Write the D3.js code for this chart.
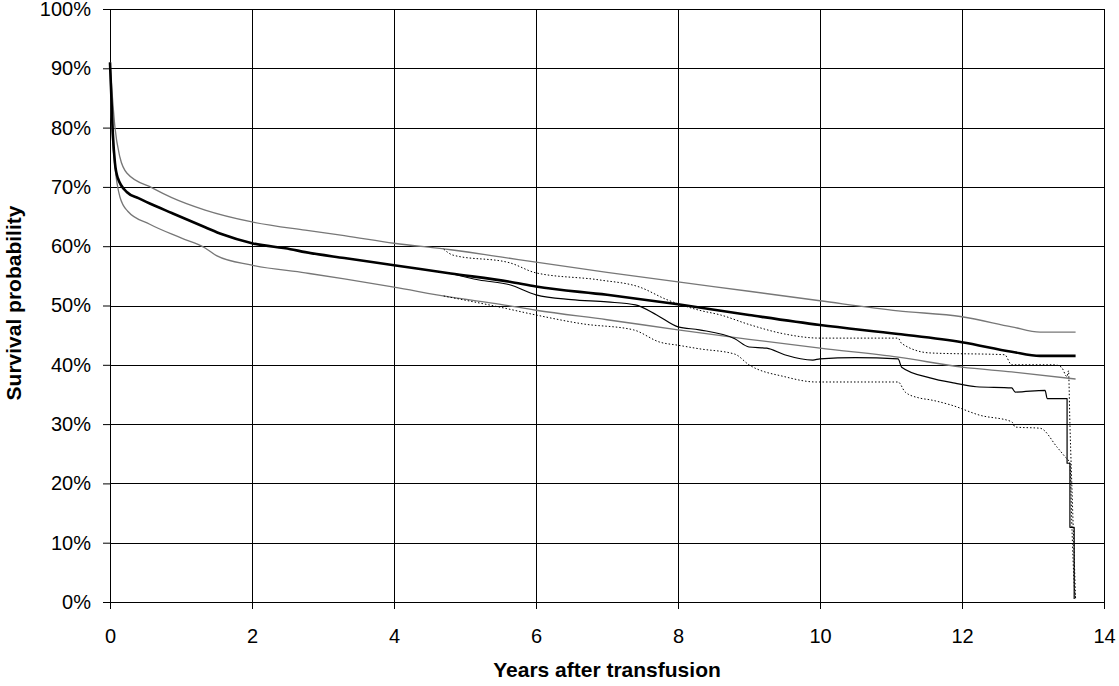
<!DOCTYPE html>
<html>
<head>
<meta charset="utf-8">
<script src="https://cdn.jsdelivr.net/npm/d3@7"></script>
<style>
  body { margin: 0; background: #fff; }
  svg { display: block; }
</style>
</head>
<body>
<div id="chart"></div>
<script>
// ---- data: [years after transfusion, survival %] ----
var mainCurve = [[0,91],[0.02,85],[0.04,79],[0.07,74],[0.11,71.5],[0.24,69.1],[0.4,68.1],[0.56,67.2],[0.87,65.6],
  [1.34,63.2],[1.58,62],[2,60.5],[2.54,59.5],[2.75,59],[3.3,58],[4,56.8],[4.8,55.4],[5.63,54],[6,53.2],[7,51.8],
  [8,50.2],[9,48.4],[10,46.7],[11.1,45.2],[12,43.8],[12.7,42.2],[13.1,41.5],[13.6,41.5]];

var mainUpper = [[0,91],[0.02,87.5],[0.07,80],[0.14,75],[0.24,72.3],[0.6,69.8],[0.87,68.2],[1.34,66.1],[2,64.1],
  [2.75,62.7],[3.3,61.8],[4,60.5],[4.8,59.4],[5.5,58.2],[6,57.3],[7,55.6],[8,54],[9,52.4],[10,50.8],[11.1,49.1],
  [12,48.1],[12.7,46.4],[13.1,45.5],[13.6,45.5]];

var mainLower = [[0,91],[0.02,81.8],[0.07,73.4],[0.14,68.3],[0.25,65.9],[0.56,63.7],[1,61.4],[1.34,59.7],[1.5,58.4],
  [2,56.8],[2.75,55.5],[3.3,54.5],[4,53.1],[4.8,51.4],[5.5,50.2],[6,49.2],[7,47.6],[8,45.9],[9,44.3],[10,42.8],
  [11.1,41.3],[12,39.6],[12.7,38.8],[13.6,37.6]];

var kmCurve = [[4.8,55.4],[5.2,54.3],[5.63,53.5],[6,51.8],[6.5,51],[7,50.6],[7.4,50.1],[7.7,48.4],[8,46.4],[8.3,45.9],
  [8.8,44.4],[9,43],[9.25,42.8],[9.5,41.7],[9.9,40.8],[10,41],[10.5,41.2],[11.1,41],[11.15,39.6],[11.55,37.8],
  [11.9,36.9],[12.2,36.3],[12.7,36.1],[12.75,35.4],[13.17,35.7],[13.2,34.3],[13.48,34.3],[13.48,23.4],[13.52,23.4],
  [13.52,12.6],[13.58,12.6],[13.58,0.5]];

var kmUpper = [[4.7,59.5],[4.83,58.5],[5.63,57.2],[6,55.5],[6.9,54.3],[7.46,53.1],[7.84,51],[8.3,49.2],[8.6,48.4],
  [9,46.8],[9.5,45.2],[10,44.5],[11.1,44.5],[11.15,43.6],[11.55,42],[12.6,41.7],[12.7,40],[13.3,40],[13.4,39.6],
  [13.48,38],[13.5,39],[13.52,30],[13.56,15],[13.6,0.5]];

var kmLower = [[4.7,51.6],[5.5,49.7],[6,48.4],[6.66,46.9],[7.37,45.9],[7.75,43.8],[8,43.3],[8.3,42.7],[8.8,41.8],
  [9,40],[9.5,38],[9.95,37.1],[11.1,37.1],[11.2,35.4],[11.4,34.4],[11.55,34.1],[11.85,33.2],[12.25,31.5],[12.7,30.4],
  [12.75,29.5],[13.1,29.3],[13.34,26.1],[13.45,24.5],[13.52,23.4],[13.55,12],[13.58,3],[13.6,0.5]];

var xTicks = [0, 2, 4, 6, 8, 10, 12, 14];
var yTicks = [0, 10, 20, 30, 40, 50, 60, 70, 80, 90, 100];

// ---- layout ----
var attrs = {
  svgWidth: 1119,
  svgHeight: 686,
  marginTop: 9,
  marginLeft: 110,
  marginRight: 15,
  marginBottom: 84,
  font: 'Arial, "Liberation Sans", sans-serif',
  tickFont: 20,
  titleFont: 21
};

var chartWidth = attrs.svgWidth - attrs.marginLeft - attrs.marginRight;
var chartHeight = attrs.svgHeight - attrs.marginTop - attrs.marginBottom;

var svg = d3.select('#chart').append('svg')
  .attr('width', attrs.svgWidth)
  .attr('height', attrs.svgHeight)
  .attr('font-family', attrs.font);

var chart = svg.append('g')
  .attr('transform', 'translate(' + attrs.marginLeft + ',' + attrs.marginTop + ')');

var x = d3.scaleLinear().domain([0, 14]).range([0, chartWidth]);
var y = d3.scaleLinear().domain([0, 100]).range([chartHeight, 0]);

// grid
chart.append('g').selectAll('line.h').data(yTicks).enter().append('line')
  .attr('x1', 0).attr('x2', chartWidth)
  .attr('y1', d => Math.round(y(d)) + 0.5).attr('y2', d => Math.round(y(d)) + 0.5)
  .attr('stroke', '#000').attr('stroke-width', 1);

chart.append('g').selectAll('line.v').data(xTicks).enter().append('line')
  .attr('y1', 0).attr('y2', chartHeight)
  .attr('x1', d => Math.round(x(d)) + 0.5).attr('x2', d => Math.round(x(d)) + 0.5)
  .attr('stroke', '#000').attr('stroke-width', 1);

// axes
var yAxis = d3.axisLeft(y).tickValues(yTicks).tickSize(7).tickPadding(12).tickFormat(d => d + '%');
var xAxis = d3.axisBottom(x).tickValues(xTicks).tickSize(7).tickPadding(20).tickFormat(d3.format('d'));

var gy = chart.append('g').call(yAxis);
var gx = chart.append('g').attr('transform', 'translate(0,' + chartHeight + ')').call(xAxis);

[gx, gy].forEach(function (g) {
  g.select('.domain').remove();
  g.selectAll('line').attr('stroke', '#000');
  g.selectAll('text').attr('font-size', attrs.tickFont).attr('fill', '#000').attr('font-family', attrs.font);
});

// curves
var line = d3.line().x(d => x(d[0])).y(d => y(d[1])).curve(d3.curveMonotoneX);

var series = [
  { data: mainUpper, color: '#777', width: 1.3, dash: null },
  { data: mainLower, color: '#777', width: 1.3, dash: null },
  { data: kmUpper, color: '#000', width: 1, dash: '1.5,2' },
  { data: kmLower, color: '#000', width: 1, dash: '1.5,2' },
  { data: kmCurve, color: '#000', width: 1.2, dash: null },
  { data: mainCurve, color: '#000', width: 2.6, dash: null }
];

chart.selectAll('path.curve').data(series).enter().append('path')
  .attr('class', 'curve')
  .attr('d', d => line(d.data))
  .attr('fill', 'none')
  .attr('stroke', d => d.color)
  .attr('stroke-width', d => d.width)
  .attr('stroke-dasharray', d => d.dash)
  .attr('stroke-linejoin', 'round');

// titles
svg.append('text')
  .attr('x', 607)
  .attr('y', 677)
  .attr('text-anchor', 'middle')
  .attr('font-size', attrs.titleFont).attr('font-weight', 'bold')
  .text('Years after transfusion');

svg.append('text')
  .attr('transform', 'translate(21,303) rotate(-90)')
  .attr('text-anchor', 'middle')
  .attr('font-size', attrs.titleFont).attr('font-weight', 'bold')
  .text('Survival probability');
</script>
</body>
</html>
